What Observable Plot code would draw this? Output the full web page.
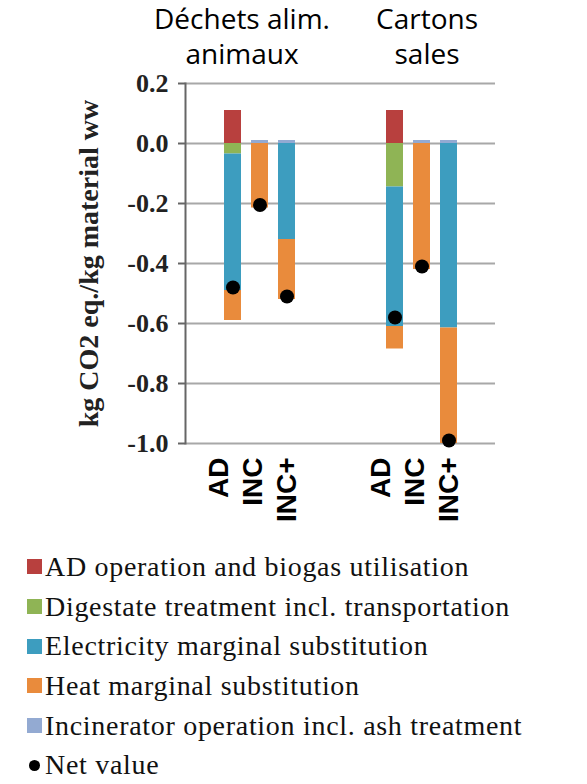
<!DOCTYPE html>
<html><head><meta charset="utf-8">
<script src="https://cdn.jsdelivr.net/npm/d3@7"></script>
<script src="https://cdn.jsdelivr.net/npm/@observablehq/plot@0.6"></script>
<style>
body{margin:0;background:#fff;}
#legend{font-family:'Liberation Serif','Times New Roman',serif;font-size:28px;letter-spacing:0.7px;color:#111;margin-left:27px;}
.row{height:39.7px;display:flex;align-items:center;white-space:nowrap;}
.sw{width:15px;height:15px;margin-right:3px;flex:none;}
.dt{width:11px;height:11px;border-radius:50%;background:#000;margin:0 5px 0 2px;flex:none;}
</style></head><body><div id="chart"></div><div id="legend"></div>
<script>
// x slots (blank slots give the gap between the two groups)
const slots = ["p0","AD1","INC1","INCp1","g1","g2","g3","AD2","INC2","INCp2","p1"];
const barSlots = ["AD1","INC1","INCp1","AD2","INC2","INCp2"];
const barLabels = ["AD","INC","INC+","AD","INC","INC+"];
const groupTitles = ["Déchets alim.\nanimaux","Cartons\nsales"];
const components = [
  "AD operation and biogas utilisation",
  "Digestate treatment incl. transportation",
  "Electricity marginal substitution",
  "Heat marginal substitution",
  "Incinerator operation incl. ash treatment"
];
const colors = ["#b8403e","#8fb455","#3d9dbf","#e98b3c","#93aad2"];
// values per bar (AD, INC, INC+ for each waste type)
const adOperation = [0.11, 0, 0, 0.11, 0, 0];
const digestate   = [-0.035, 0, 0, -0.145, 0, 0];
const electricity = [-0.455, 0, -0.32, -0.465, 0, -0.615];
const heat        = [-0.10, -0.215, -0.20, -0.075, -0.42, -0.385];
const incinerator = [0, 0.01, 0.01, 0, 0.01, 0.01];
const netValue    = [-0.48, -0.205, -0.51, -0.58, -0.41, -0.99];
const yTicks = [0.2, 0, -0.2, -0.4, -0.6, -0.8, -1.0];
const yLabel = "kg CO2 eq./kg material ww";
const netLabel = "Net value";

const series = [adOperation, digestate, electricity, heat, incinerator];
const rows = [];
series.forEach((s, k) => s.forEach((v, i) => { if (v !== 0) rows.push({slot: barSlots[i], comp: components[k], value: v}); }));
const netRows = netValue.map((v, i) => ({slot: barSlots[i], net: v}));
const labelOf = Object.fromEntries(barSlots.map((s, i) => [s, barLabels[i]]));

const serif = "'Liberation Serif','Times New Roman',serif";
const sans = "'Liberation Sans',Arial,sans-serif";
const xAxisFor = (lab, dx) => Plot.axisX({ticks: barSlots.filter(s => labelOf[s] === lab), tickFormat: d => labelOf[d],
  tickSize: 0, tickRotate: -90, tickPadding: 14, fontSize: 28, fontWeight: "bold", fontFamily: sans, fill: "#000", dx, label: null});
const chart = Plot.plot({
  width: 587, height: 547,
  marginLeft: 185, marginRight: 92, marginTop: 83, marginBottom: 104,
  style: {background: "#fff", overflow: "visible"},
  x: {type: "band", domain: slots, paddingInner: 0.38, paddingOuter: 0.27, axis: null},
  y: {domain: [-1.0, 0.2], axis: null},
  color: {domain: components, range: colors},
  marks: [
    Plot.ruleY(yTicks, {stroke: "#a8a8a8", strokeWidth: 2}),
    Plot.barY(rows, {x: "slot", y: "value", fill: "comp"}),
    Plot.dot(netRows, {x: "slot", y: "net", r: 7, fill: "#000"}),
    Plot.axisY({ticks: yTicks, tickFormat: d => d.toFixed(1), tickSize: 7, tickPadding: 10,
      fontSize: 26, fontWeight: "bold", fontFamily: serif, fill: "#222", stroke: "#666", strokeWidth: 2, label: null}),
    Plot.frame({anchor: "left", stroke: "#666", strokeWidth: 2}),
    xAxisFor("AD", -14),
    xAxisFor("INC", -7),
    xAxisFor("INC+", 0),
    Plot.text([yLabel], {frameAnchor: "left", textAnchor: "middle", dx: -96, rotate: -90, fontSize: 28, fontWeight: "bold", fontFamily: serif, fill: "#222"}),
    Plot.text([{t: groupTitles[0], s: "INC1"}], {x: "s", text: "t", frameAnchor: "top", textAnchor: "middle", dy: -79, dx: -18, lineAnchor: "top",
      lineHeight: 1.25, fontSize: 28, fontFamily: "'Open Sans',sans-serif", fill: "#000"}),
    Plot.text([{t: groupTitles[1], s: "INC2"}], {x: "s", text: "t", frameAnchor: "top", textAnchor: "middle", dy: -79, dx: 5, lineAnchor: "top",
      lineHeight: 1.25, fontSize: 28, fontFamily: "'Open Sans',sans-serif", fill: "#000"})
  ]
});
document.getElementById("chart").appendChild(chart);

const legend = d3.select("#legend");
components.forEach((c, k) => {
  const r = legend.append("div").attr("class", "row");
  r.append("div").attr("class", "sw").style("background", colors[k]);
  r.append("span").text(c);
});
const nr = legend.append("div").attr("class", "row");
nr.append("div").attr("class", "dt");
nr.append("span").text(netLabel);
</script></body></html>
